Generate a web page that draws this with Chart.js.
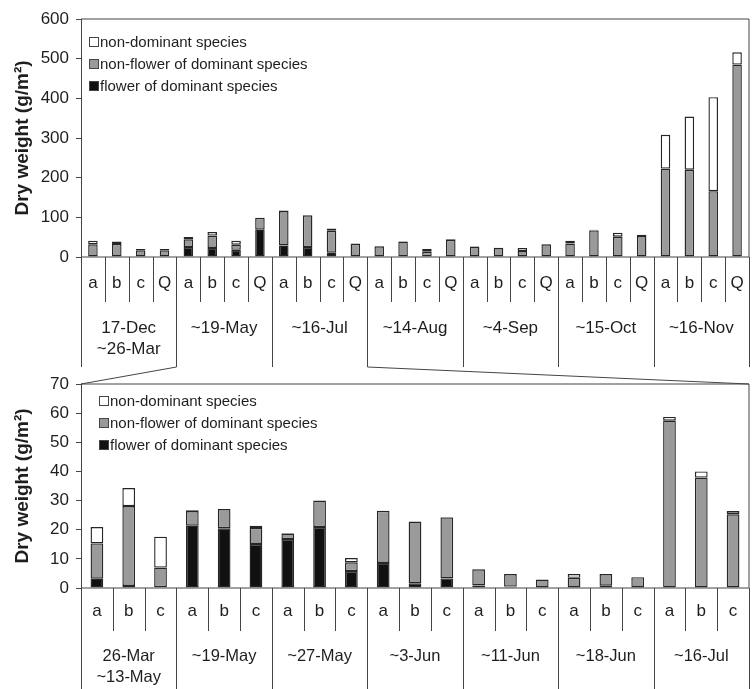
<!DOCTYPE html>
<html>
<head>
<meta charset="utf-8">
<script src="https://cdn.jsdelivr.net/npm/chart.js@4.4.1/dist/chart.umd.min.js"></script>
<style>
  html, body { margin: 0; padding: 0; background: #fff; }
  #wrap { position: relative; width: 752px; height: 689px; overflow: hidden; }
  #wrap canvas { position: absolute; left: 0; }
</style>
</head>
<body>
<div id="wrap">
  <canvas id="topChart" width="752" height="372" style="top:0"></canvas>
  <canvas id="lowChart" width="752" height="325" style="top:364px"></canvas>
  <canvas id="links" width="752" height="689" style="top:0;pointer-events:none"></canvas>
</div>
<script>
// series (bottom to top of each stack)
const seriesNames = ['flower of dominant species', 'non-flower of dominant species', 'non-dominant species'];
const seriesColors = ['#111111', '#9a9a9a', '#ffffff'];

// upper chart: whole season
const topSubs = ['a', 'b', 'c', 'Q'];
const topGroups = [['17-Dec', '~26-Mar'], ['~19-May'], ['~16-Jul'], ['~14-Aug'], ['~4-Sep'], ['~15-Oct'], ['~16-Nov']];
const topFlower    = [0, 0, 0, 0,   25, 23, 18, 69,   29, 25, 11, 0,   0, 0, 0, 0,   0, 0, 0, 0,    0, 0, 0, 0,     0, 0, 0, 0];
const topNonFlower = [32, 33, 17, 17, 19.5, 31, 13, 30, 87, 80, 55, 33, 27, 39, 13, 43, 26, 22.5, 15, 32, 34, 67, 51, 53, 223, 220, 166, 485];
const topNonDom    = [9, 6, 3, 3,   6, 9, 10, 0,    1, 0, 6, 1,     1, 1, 7, 1.5,  1, 1, 8, 1,    7, 2, 10, 3,   85, 134, 237, 31];

// lower chart: detail of 26-Mar ~ 16-Jul
const lowSubs = ['a', 'b', 'c'];
const lowGroups = [['26-Mar', '~13-May'], ['~19-May'], ['~27-May'], ['~3-Jun'], ['~11-Jun'], ['~18-Jun'], ['~16-Jul']];
const lowFlower    = [3.2, 0.7, 0.3,  21.4, 20.5, 15.1,  16.8, 20.9, 5.8,  8.6, 1.6, 3.3,    0.9, 0.5, 0,    0.2, 0.8, 0,    0, 0, 0];
const lowNonFlower = [12.1, 27.4, 6.7, 5.0, 6.6, 5.5,    1.9, 9.1, 3.0,    17.9, 21.2, 20.9, 5.5, 4.3, 2.9,  3.3, 4.0, 3.7,  57.4, 37.9, 25.3];
const lowNonDom    = [5.6, 6.2, 10.6, 0.3, 0, 0.8,       0.2, 0, 1.5,      0, 0, 0.2,        0, 0, 0,        1.3, 0, 0,      1.3, 2.1, 1.1];

const FONT = '"Liberation Sans", Arial, sans-serif';
const LINE = '#454545';
const TEXT = '#1e1e1e';

function buildDatasets(series) {
  return series.map((values, i) => ({
    label: seriesNames[i],
    data: values,
    backgroundColor: seriesColors[i],
    borderColor: '#262626',
    borderWidth: 1.4,
    borderSkipped: false,
    barPercentage: 0.4,
    categoryPercentage: 1
  }));
}

// frame, two level category axis and legend, drawn after the bars
function framePlugin(axis) {
  return {
    id: 'frame',
    afterDraw(chart) {
      const { ctx, chartArea: a } = chart;
      const x = chart.scales.x;
      const n = chart.data.labels.length;
      const step = x.getPixelForValue(1) - x.getPixelForValue(0);
      ctx.save();
      ctx.strokeStyle = LINE;
      ctx.lineWidth = 1;
      ctx.beginPath();
      ctx.moveTo(a.left, a.top);
      ctx.lineTo(a.right, a.top);
      ctx.lineTo(a.right, a.bottom);
      ctx.lineTo(a.left, a.bottom);
      for (let i = 0; i <= n; i++) {
        const px = Math.round(x.getPixelForValue(i) - step / 2) + 0.5;
        const deep = i % axis.per === 0;
        ctx.moveTo(px, a.bottom);
        ctx.lineTo(px, a.bottom + (deep ? axis.groupDepth : axis.catDepth));
      }
      ctx.stroke();

      ctx.fillStyle = TEXT;
      ctx.textAlign = 'center';
      ctx.textBaseline = 'middle';
      ctx.font = axis.letterSize + 'px ' + FONT;
      chart.data.labels.forEach((lab, i) => {
        ctx.fillText(lab, x.getPixelForValue(i), a.bottom + axis.letterY);
      });
      ctx.font = axis.groupSize + 'px ' + FONT;
      axis.groups.forEach((lines, g) => {
        const cx = (x.getPixelForValue(g * axis.per) + x.getPixelForValue(g * axis.per + axis.per - 1)) / 2;
        lines.forEach((t, k) => ctx.fillText(t, cx, a.bottom + axis.groupY + k * 21.5));
      });

      // legend, top item is the top of the stack
      ctx.font = '15px ' + FONT;
      ctx.textAlign = 'left';
      const items = chart.data.datasets.slice().reverse();
      items.forEach((ds, k) => {
        const y = a.top + axis.legendY + k * 22;
        ctx.fillStyle = ds.backgroundColor;
        ctx.fillRect(axis.legendX, y - 4.5, 9, 9);
        ctx.strokeStyle = LINE;
        ctx.strokeRect(axis.legendX + 0.5, y - 4.5, 9, 9);
        ctx.fillStyle = TEXT;
        ctx.fillText(ds.label, axis.legendX + 11, y + 1);
      });
      ctx.restore();
    }
  };
}

function buildOptions(yMax, yStep, padTop, padBottom) {
  return {
    responsive: false,
    animation: false,
    layout: { padding: { top: padTop, right: 3, bottom: padBottom, left: 0 } },
    plugins: { legend: { display: false }, tooltip: { enabled: false } },
    scales: {
      x: { display: false, stacked: true },
      y: {
        stacked: true,
        min: 0,
        max: yMax,
        ticks: { stepSize: yStep, color: TEXT, font: { family: FONT, size: 17 }, padding: 7 },
        grid: { drawOnChartArea: false, tickLength: 5, color: LINE },
        border: { color: LINE },
        title: {
          display: true,
          text: 'Dry weight (g/m²)',
          color: TEXT,
          font: { family: FONT, size: 19, weight: 'bold' },
          padding: { top: 11, bottom: 0 }
        },
        afterFit(scale) { scale.width = 81; }
      }
    }
  };
}

const topAxis = {
  per: topSubs.length, groups: topGroups, catDepth: 45, groupDepth: 110,
  letterY: 26, groupY: 71, letterSize: 17, groupSize: 17, legendX: 89, legendY: 23
};
const lowAxis = {
  per: lowSubs.length, groups: lowGroups, catDepth: 43, groupDepth: 110,
  letterY: 23.5, groupY: 68, letterSize: 17, groupSize: 16.5, legendX: 99, legendY: 17
};

const topChart = new Chart(document.getElementById('topChart'), {
  type: 'bar',
  data: {
    labels: topGroups.flatMap(() => topSubs),
    datasets: buildDatasets([topFlower, topNonFlower, topNonDom])
  },
  options: buildOptions(600, 100, 19, 115),
  plugins: [framePlugin(topAxis)]
});

const lowTop = 364;
const lowChart = new Chart(document.getElementById('lowChart'), {
  type: 'bar',
  data: {
    labels: lowGroups.flatMap(() => lowSubs),
    datasets: buildDatasets([lowFlower, lowNonFlower, lowNonDom])
  },
  options: buildOptions(70, 10, 20, 101),
  plugins: [framePlugin(lowAxis)]
});

// zoom lines from the upper axis boxes to the lower plot corners
const lc = document.getElementById('links').getContext('2d');
const ta = topChart.chartArea;
const la = lowChart.chartArea;
const tx = topChart.scales.x;
const tStep = tx.getPixelForValue(1) - tx.getPixelForValue(0);
const fromX = Math.round(tx.getPixelForValue(topSubs.length) - tStep / 2) + 0.5;
const toX = Math.round(tx.getPixelForValue(topSubs.length * 3) - tStep / 2) + 0.5;
const yBox = ta.bottom + topAxis.groupDepth;
lc.strokeStyle = LINE;
lc.lineWidth = 1;
lc.beginPath();
lc.moveTo(fromX, yBox);
lc.lineTo(la.left, lowTop + la.top);
lc.moveTo(toX, yBox);
lc.lineTo(la.right, lowTop + la.top);
lc.stroke();
</script>
</body>
</html>
